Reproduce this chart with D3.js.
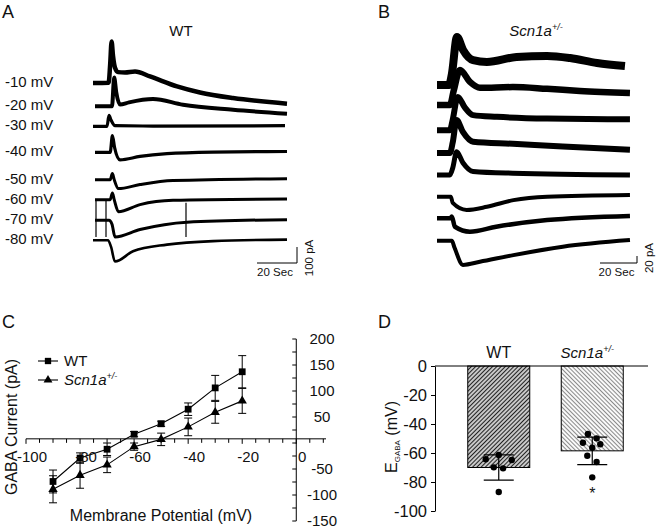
<!DOCTYPE html>
<html>
<head>
<meta charset="utf-8">
<script src="https://cdn.jsdelivr.net/npm/d3@7"></script>
<style>
body { margin: 0; background: #fff; }
svg { display: block; font-family: "Liberation Sans", Arial, Helvetica, sans-serif; }
</style>
</head>
<body>
<script>
// ---- Data ----

// A: WT traces, [time (s), current (pA) relative to holding]
const voltagesA = ["-10 mV", "-20 mV", "-30 mV", "-40 mV", "-50 mV", "-60 mV", "-70 mV", "-80 mV"];
const offsetsA = [0, -146, -271, -434, -604, -729, -858, -983];
const tracesA = [
    [[0, 0], [7.8, 2], [8.6, 120], [9.3, 260], [10, 170], [11, 95], [12.5, 68], [16, 66], [21, 72], [28.5, 41], [42, -21], [53.5, -59], [70, -94], [97, -129]],
    [[1, 0], [9.5, 0], [10.6, 181], [11.6, 90], [13.5, 11], [18, 25], [30, 46], [45, 10], [70, -21], [97, -46]],
    [[0, 0], [7, 0], [8, 69], [9, 40], [11, 4], [30, 2], [96, 4]],
    [[1, 0], [8.6, 0], [9.7, 106], [10.8, 30], [13.5, -46], [23.5, -25], [37, -8], [60, 2], [97, 6]],
    [[1, 0], [8.6, 0], [9.7, 38], [10.6, 0], [12.7, -56], [23.5, -31], [40, -6], [97, 6]],
    [[1, 0], [8.6, 0], [9.7, 42], [10.6, 0], [12.7, -75], [23.5, -31], [40, -4], [97, 4]],
    [[1, 0], [8, 0], [9.5, -25], [11, -104], [23.5, -58], [47, -12], [97, 4]],
    [[0, 0], [7.5, 0], [9, -40], [11, -133], [20, -69], [37, -27], [60, -5], [97, 4]]
];
// stimulus artifacts in A: time (s), top/bottom (pA, same frame as offsets)
const artifactsA = [
    { t: 1.5, from: -729, to: -962 },
    { t: 6.5, from: -729, to: -962 },
    { t: 46.5, from: -748, to: -962 }
];

// B: Scn1a+/- traces
const offsetsB = [0, -57, -129, -194, -257, -319, -381, -445];
const tracesB = [
    [[0, 0], [6.5, 0], [8, 30], [10.8, 137], [14.1, 100], [19.5, 71], [27, 66], [43, 80], [59.5, 83], [72, 77], [86.5, 63], [101.6, 54]],
    [[0, 0], [7, 0], [9, 40], [12.4, 100], [17.8, 66], [23.2, 49], [41, 51], [59.5, 46], [77.3, 40], [104.3, 34]],
    [[0, 0], [7, 0], [8.5, 30], [11.2, 95], [15, 65], [19.5, 43], [32.4, 38], [59.5, 33], [104.3, 31]],
    [[0, 0], [7, 0], [8.5, 30], [10.6, 94], [14, 60], [19.5, 32], [41, 26], [68, 18], [104.3, 9]],
    [[0, 0], [7, 0], [8.5, 20], [10.6, 66], [14, 35], [19.5, 10], [41, 5], [104.3, 0]],
    [[0, 0], [7.5, 0], [8.5, -18], [16, -38], [27, -29], [41.3, -10], [59.5, 0], [104.3, 5]],
    [[0, 0], [7, 0], [8, 5], [9.7, -24], [17.8, -38], [32, -24], [59.5, -5], [104.3, 7]],
    [[0, 0], [8, 0], [9.5, -20], [14, -69], [23.2, -60], [41.3, -41], [68, -17], [104.3, 2]]
];

// C: I-V relation
const mvC = [-90, -80, -70, -60, -50, -40, -30, -20];
const wtI = [-74, -29, -12, 17, 37, 65, 106, 137];
const wtErr = [22, 10, 12, 5, 5, 12, 24, 31];
const scnI = [-89, -62, -42, -7, 7, 31, 59, 81];
const scnErr = [26, 25, 15, 7, 12, 17, 21, 24];
const xTicksC = [-100, -80, -60, -40, -20, 0];
const yTicksC = [200, 150, 100, 50, -50, -100, -150];

// D: E_GABA
const groupsD = ["WT", "Scn1a"];
const meanD = [-70, -58.5];
const semD = [8.7, 9.5];
const dotsWT = [-61.4, -64.3, -64.8, -69.9, -70.6, -86.9];
const jitterWT = [0, -0.21, 0.21, -0.08, 0.07, 0];
const dotsScn = [-46.9, -52.9, -49.9, -54.0, -56.3, -61.9, -66.2, -76.8];
const jitterScn = [-0.07, -0.15, 0.07, 0.13, 0, -0.08, 0.07, 0];
const yTicksD = [0, -20, -40, -60, -80, -100];

// ---- Styles ----
const strokeA = [4.5, 4, 3.2, 3.2, 3, 3, 3, 2.6];
const strokeB = [8, 6.5, 6, 6, 5, 4, 4.5, 4];

const svg = d3.select("body").append("svg")
    .attr("width", 658)
    .attr("height", 528);

const addText = (x, y, txt, size, opts = {}) => {
    const t = svg.append("text")
        .attr("x", x).attr("y", y)
        .attr("font-size", size)
        .attr("text-anchor", opts.anchor || "start")
        .attr("fill", "#111")
        .text(txt);
    if (opts.italic) t.attr("font-style", "italic");
    return t;
};

const addScn = (x, y, size, anchor) => {
    const t = addText(x, y, "Scn1a", size, { anchor: anchor, italic: true });
    t.append("tspan")
        .attr("dy", -size * 0.42)
        .attr("font-size", size * 0.6)
        .text("+/-");
    return t;
};

// panel letters
addText(2, 18, "A", 18);
addText(378, 18, "B", 18);
addText(2, 328, "C", 18);
addText(378, 328, "D", 18);

// ---- Traces ----
const drawTraces = (traces, offsets, x, y, widths) => {
    const g = svg.append("g");
    const line = d3.line().curve(d3.curveMonotoneX);
    g.selectAll("path")
        .data(traces)
        .join("path")
        .attr("d", (d, i) => line.x(p => x(p[0])).y(p => y(p[1] + offsets[i]))(d))
        .attr("fill", "none")
        .attr("stroke", "#000")
        .attr("stroke-width", (d, i) => widths[i])
        .attr("stroke-linejoin", "round");
    return g;
};

const scaleBar = (x, y, xs, ys, secs, pA, pALabel) => {
    const lenX = xs(secs) - xs(0);
    const lenY = ys(0) - ys(pA);
    svg.append("path")
        .attr("d", `M${x},${y}H${x + lenX}V${y - lenY}`)
        .attr("fill", "none")
        .attr("stroke", "#000")
        .attr("stroke-width", 1);
    addText(x + lenX / 2 - 2, y + 13, secs + " Sec", 11.5, { anchor: "middle" });
    addText(0, 0, pALabel, 11.5, { anchor: "middle" })
        .attr("transform", `translate(${x + lenX + 16},${y - 5}) rotate(-90)`);
};

// A
const xA = d3.scaleLinear().domain([0, 100]).range([93, 293]);
const yA = d3.scaleLinear().domain([0, -1000]).range([83, 243]);

drawTraces(tracesA, offsetsA, xA, yA, strokeA);

svg.append("g")
    .selectAll("line")
    .data(artifactsA)
    .join("line")
    .attr("x1", d => xA(d.t)).attr("x2", d => xA(d.t))
    .attr("y1", d => yA(d.from)).attr("y2", d => yA(d.to))
    .attr("stroke", "#000")
    .attr("stroke-width", 1.2);

voltagesA.forEach((v, i) => addText(5, yA(offsetsA[i]) + 4, v, 15));
addText(181, 36, "WT", 15, { anchor: "middle" });
scaleBar(257, 263, xA, yA, 20, 100, "100 pA");

// B
const xB = d3.scaleLinear().domain([0, 100]).range([437, 622]);
const yB = d3.scaleLinear().domain([0, -500]).range([85, 260]);

drawTraces(tracesB, offsetsB, xB, yB, strokeB);
addScn(536, 36, 15, "middle");
scaleBar(600, 263, xB, yB, 20, 20, "20 pA");

// ---- C: I-V ----
const xC = d3.scaleLinear().domain([-100, 11]).range([26, 326]);
const yC = d3.scaleLinear().domain([-150, 200]).range([521, 339]);
const axisY = yC(8);

const gC = svg.append("g");

gC.append("line")
    .attr("x1", xC(-100)).attr("x2", xC(11))
    .attr("y1", axisY).attr("y2", axisY)
    .attr("stroke", "#000");
gC.selectAll("line.xt")
    .data(d3.range(-100, 11, 5))
    .join("line")
    .attr("class", "xt")
    .attr("x1", d => xC(d)).attr("x2", d => xC(d))
    .attr("y1", axisY).attr("y2", d => axisY + (d % 20 === 0 ? 5 : 4))
    .attr("stroke", "#000");
xTicksC.forEach(v => addText(xC(v) + 6, 462, String(v), 15, { anchor: "middle" }));

gC.append("line")
    .attr("x1", xC(0)).attr("x2", xC(0))
    .attr("y1", yC(-150)).attr("y2", yC(200))
    .attr("stroke", "#000");
gC.selectAll("line.yt")
    .data(d3.range(-150, 201, 25))
    .join("line")
    .attr("class", "yt")
    .attr("x1", xC(0) - 4).attr("x2", xC(0))
    .attr("y1", d => yC(d)).attr("y2", d => yC(d))
    .attr("stroke", "#000");
yTicksC.forEach(v => addText(322, yC(v) + 5, String(v), 15, { anchor: "middle" }));

const wtPts = mvC.map((v, i) => ({ v: v, i: wtI[i], e: wtErr[i] }));
const scnPts = mvC.map((v, i) => ({ v: v, i: scnI[i], e: scnErr[i] }));

const ivLine = d3.line().x(d => xC(d.v)).y(d => yC(d.i));

const drawSeries = (pts, symbol, size) => {
    const g = gC.append("g");
    g.append("path")
        .attr("d", ivLine(pts))
        .attr("fill", "none")
        .attr("stroke", "#000")
        .attr("stroke-width", 1.1);
    const eb = g.selectAll("g.eb").data(pts).join("g").attr("class", "eb");
    eb.append("line")
        .attr("x1", d => xC(d.v)).attr("x2", d => xC(d.v))
        .attr("y1", d => yC(d.i - d.e)).attr("y2", d => yC(d.i + d.e));
    eb.append("line")
        .attr("x1", d => xC(d.v) - 4).attr("x2", d => xC(d.v) + 4)
        .attr("y1", d => yC(d.i - d.e)).attr("y2", d => yC(d.i - d.e));
    eb.append("line")
        .attr("x1", d => xC(d.v) - 4).attr("x2", d => xC(d.v) + 4)
        .attr("y1", d => yC(d.i + d.e)).attr("y2", d => yC(d.i + d.e));
    eb.selectAll("line").attr("stroke", "#000").attr("stroke-width", 1);
    g.selectAll("path.m").data(pts).join("path")
        .attr("class", "m")
        .attr("d", d3.symbol(symbol, size))
        .attr("transform", d => `translate(${xC(d.v)},${yC(d.i)})`)
        .attr("fill", "#000");
};

drawSeries(scnPts, d3.symbolTriangle, 38);
drawSeries(wtPts, d3.symbolSquare, 46);

// legend
const legendC = [
    { y: 361, symbol: d3.symbolSquare, size: 40 },
    { y: 380, symbol: d3.symbolTriangle, size: 34 }
];
legendC.forEach(l => {
    gC.append("line")
        .attr("x1", 38).attr("x2", 58)
        .attr("y1", l.y).attr("y2", l.y)
        .attr("stroke", "#000").attr("stroke-width", 1.1);
    gC.append("path")
        .attr("d", d3.symbol(l.symbol, l.size))
        .attr("transform", `translate(48,${l.y})`);
});
addText(64, 366, "WT", 15);
addScn(64, 385, 15, "start");

addText(0, 0, "GABA Current (pA)", 16, { anchor: "middle" })
    .attr("transform", "translate(17,427) rotate(-90)");
addText(161, 521, "Membrane Potential (mV)", 16, { anchor: "middle" });

// ---- D: E_GABA ----
const defs = svg.append("defs");
const hatch = (id, angle, color, width) => {
    const p = defs.append("pattern")
        .attr("id", id)
        .attr("patternUnits", "userSpaceOnUse")
        .attr("width", 3).attr("height", 3)
        .attr("patternTransform", `rotate(${angle})`);
    p.append("rect").attr("width", 3).attr("height", 3).attr("fill", "#fff");
    p.append("line")
        .attr("x1", 1.5).attr("x2", 1.5).attr("y1", 0).attr("y2", 3)
        .attr("stroke", color).attr("stroke-width", width);
};
hatch("hatchWT", 45, "#222", 1.5);
hatch("hatchScn", -45, "#8a8a8a", 1.1);

const yD = d3.scaleLinear().domain([-100, 0]).range([511, 366]);
const xD = d3.scalePoint().domain(groupsD).range([452, 639]).padding(0.5);
const barW = 62;

const gD = svg.append("g");

gD.append("g")
    .attr("transform", "translate(435,0)")
    .call(d3.axisLeft(yD).tickValues(yTicksD).tickSize(4).tickPadding(4).tickFormat(d => String(d)).tickSizeOuter(0))
    .call(g => g.selectAll("text").attr("font-size", 16.5).attr("font-family", null).attr("fill", "#111"))
    .call(g => g.selectAll("line, path").attr("stroke", "#000"));

gD.selectAll("rect.bar")
    .data(groupsD)
    .join("rect")
    .attr("class", "bar")
    .attr("x", d => xD(d) - barW / 2)
    .attr("width", barW)
    .attr("y", yD(0))
    .attr("height", (d, i) => yD(meanD[i]) - yD(0))
    .attr("fill", (d, i) => i === 0 ? "url(#hatchWT)" : "url(#hatchScn)")
    .attr("stroke", "#000")
    .attr("stroke-width", 1);

gD.append("line")
    .attr("x1", 435).attr("x2", 648)
    .attr("y1", yD(0)).attr("y2", yD(0))
    .attr("stroke", "#000");

groupsD.forEach((g, i) => {
    const cx = xD(g);
    const lo = yD(meanD[i] - semD[i]);
    const hi = yD(meanD[i] + semD[i]);
    gD.append("path")
        .attr("d", `M${cx},${hi}V${lo}M${cx - 15},${lo}H${cx + 15}M${cx - 15},${hi}H${cx + 15}`)
        .attr("stroke", "#000")
        .attr("stroke-width", 1.2)
        .attr("fill", "none");
});

const drawDots = (vals, jitter, group) => {
    gD.append("g")
        .selectAll("circle")
        .data(vals)
        .join("circle")
        .attr("cx", (d, i) => xD(group) + jitter[i] * barW)
        .attr("cy", d => yD(d))
        .attr("r", 3.2)
        .attr("fill", "#000");
};
drawDots(dotsWT, jitterWT, "WT");
drawDots(dotsScn, jitterScn, "Scn1a");

addText(xD("Scn1a"), 499, "*", 16, { anchor: "middle" });
addText(xD("WT"), 358, "WT", 16, { anchor: "middle" });
addScn(xD("Scn1a") - 5, 358, 15, "middle");

const ylab = addText(0, 0, "E", 16, { anchor: "middle" })
    .attr("transform", "translate(397,437) rotate(-90)");
ylab.append("tspan").attr("dy", 3).attr("font-size", 8).text("GABA");
ylab.append("tspan").attr("dy", -3).text(" (mV)");
</script>
</body>
</html>
